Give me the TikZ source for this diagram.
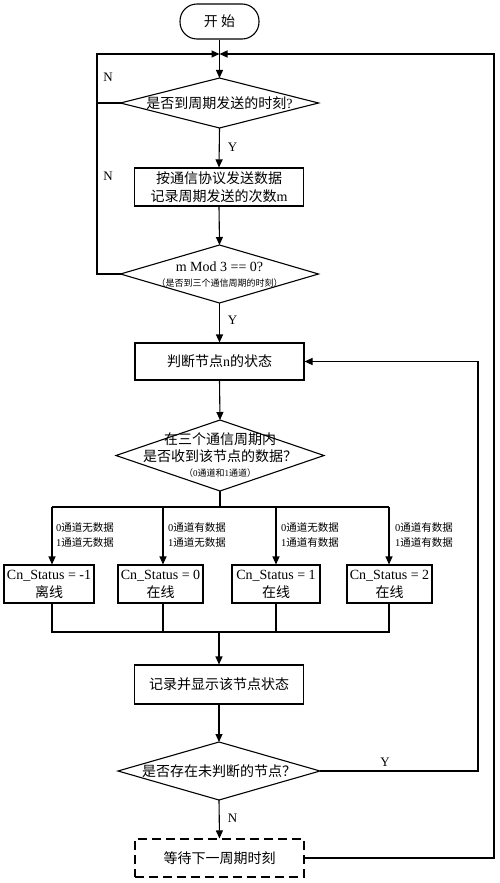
\documentclass[tikz,border=0pt]{standalone}
\usepackage{fontspec}
\setmainfont{Liberation Serif}
\newfontfamily\cjk{Noto Sans CJK SC}
\usetikzlibrary{arrows.meta,shapes.geometric}
\newcommand\zh[1]{{\cjk #1}}
\begin{document}
\begin{tikzpicture}[x=1pt,y=-1pt,
  ln/.style={line width=1.1pt},
  box/.style={draw, ln, minimum width=169pt, minimum height=38pt, inner sep=0pt, align=center, font=\fontsize{14}{18}\selectfont},
  sbox/.style={draw, ln, minimum height=38pt, inner sep=0pt, align=center, font=\fontsize{14}{18}\selectfont},
  term/.style={draw, ln, rounded corners=17pt, minimum width=79pt, minimum height=35pt, inner sep=0pt, font=\fontsize{14}{18}\selectfont},
  dia/.style={draw, ln, diamond, inner sep=0pt, outer sep=0pt},
  dtext/.style={align=center, inner sep=0pt, font=\fontsize{14}{17}\selectfont},
  arr/.style={ln, -{Triangle[length=8pt,width=7pt]}},
  yn/.style={font=\fontsize{13}{13}\selectfont, inner sep=0pt},
  lab/.style={font=\fontsize{10.5}{15}\selectfont, align=left, anchor=west, inner sep=0pt},
  longdash/.style={dash pattern=on 9pt off 5pt}
]
\useasboundingbox[fill=white] (0,0) rectangle (500,883);

% nodes
\node[term] (st) at (219.5,21.5) {\zh{开 始}};
\coordinate (m) at (219.5,54);
\coordinate (L) at (97,54);
\coordinate (R) at (494,54);
\coordinate (RY) at (478,361.5);

\node[dia, minimum width=198pt, minimum height=50pt] (d1) at (219.5,103) {};
\node[dtext] (d1t) at (d1) {\zh{是否到周期发送的时刻}?};

\node[box] (b1) at (219,187) {\zh{按通信协议发送数据}\\\zh{记录周期发送的次数}m};

\node[dia, minimum width=198pt, minimum height=58pt] (d2) at (219.5,274) {};
\node[dtext] (d2t) at (219.5,275) {m Mod 3 == 0?\\[-2pt]{\fontsize{9}{11}\selectfont\zh{（是否到三个通信周期的时刻）}}};

\node[box, minimum height=37pt] (b2) at (219.5,361.5) {\zh{判断节点}n\zh{的状态}};

\node[dia, minimum width=208pt, minimum height=71pt] (d3) at (220,455.5) {};
\node[dtext] (d3t) at (220,455) {\zh{在三个通信周期内}\\\zh{是否收到该节点的数据？}\\[-2pt]{\fontsize{9}{11}\selectfont\zh{（}0\zh{通道和}1\zh{通道）}}};

\node[sbox, minimum width=90pt] (s1) at (49,584) {C{n}\_Status = -1\\\zh{离线}};
\node[sbox, minimum width=85pt] (s2) at (160.5,584) {C{n}\_Status = 0\\\zh{在线}};
\node[sbox, minimum width=88pt] (s3) at (276,584) {C{n}\_Status = 1\\\zh{在线}};
\node[sbox, minimum width=85pt] (s4) at (389.5,584) {C{n}\_Status = 2\\\zh{在线}};

\node[box, minimum height=39pt] (b3) at (219,684.5) {\zh{记录并显示该节点状态}};

\node[dia, minimum width=202pt, minimum height=58pt] (d4) at (219,771) {};
\node[dtext] (d4t) at (d4) {\zh{是否存在未判断的节点？}};

\node[box, longdash] (b4) at (219.5,858) {\zh{等待下一周期时刻}};

% bus coordinates
\coordinate (t1) at (52,507);
\coordinate (t2) at (163,507);
\coordinate (t3) at (276,507);
\coordinate (t4) at (389,507);
\coordinate (tc) at (220,507);
\coordinate (u1) at (52,632);
\coordinate (u2) at (163,632);
\coordinate (u3) at (276,632);
\coordinate (u4) at (389,632);
\coordinate (uc) at (219,632);

% connectors
\draw[ln] (st.south) -- (m);
\draw[arr] (m) -- (d1.north);
\draw[ln] (d1.west) -- (d1.west -| L);
\draw[arr] (d2.west) -- (d2.west -| L) -- (L) -- (m);
\draw[arr] (b4.east) -- (b4.east -| R) -- (R) -- (m);
\draw[arr] (d1.south) -- (b1.north);
\draw[arr] (b1.south) -- (d2.north);
\draw[arr] (d2.south) -- (b2.north);
\draw[arr] (b2.south) -- (d3.north);
\draw[ln] (d3.south) -- (tc);
\draw[ln] (t1) -- (t4);
\draw[arr] (t1) -- (t1 |- s1.north);
\draw[arr] (t2) -- (t2 |- s2.north);
\draw[arr] (t3) -- (t3 |- s3.north);
\draw[arr] (t4) -- (t4 |- s4.north);
\draw[ln] (u1 |- s1.south) -- (u1) -- (u4) -- (u4 |- s4.south);
\draw[ln] (u2 |- s2.south) -- (u2);
\draw[ln] (u3 |- s3.south) -- (u3);
\draw[arr] (uc) -- (b3.north);
\draw[arr] (b3.south) -- (d4.north);
\draw[arr] (d4.east) -- (d4.east -| RY) -- (RY) -- (b2.east);
\draw[arr] (d4.south) -- (b4.north);

% Y/N labels
\node[yn] (n1) at (108,77) {N};
\node[yn] (n2) at (108,176) {N};
\node[yn] (y1) at (232.5,147) {Y};
\node[yn] (y2) at (232.5,320) {Y};
\node[yn] (y3) at (385,762) {Y};
\node[yn] (n3) at (232.5,818) {N};

% branch labels
\node[lab] (l1) at (56,535) {0\zh{通道无数据}\\1\zh{通道无数据}};
\node[lab] (l2) at (168,535) {0\zh{通道有数据}\\1\zh{通道无数据}};
\node[lab] (l3) at (281,535) {0\zh{通道无数据}\\1\zh{通道有数据}};
\node[lab] (l4) at (395,535) {0\zh{通道有数据}\\1\zh{通道有数据}};
\end{tikzpicture}
\end{document}
